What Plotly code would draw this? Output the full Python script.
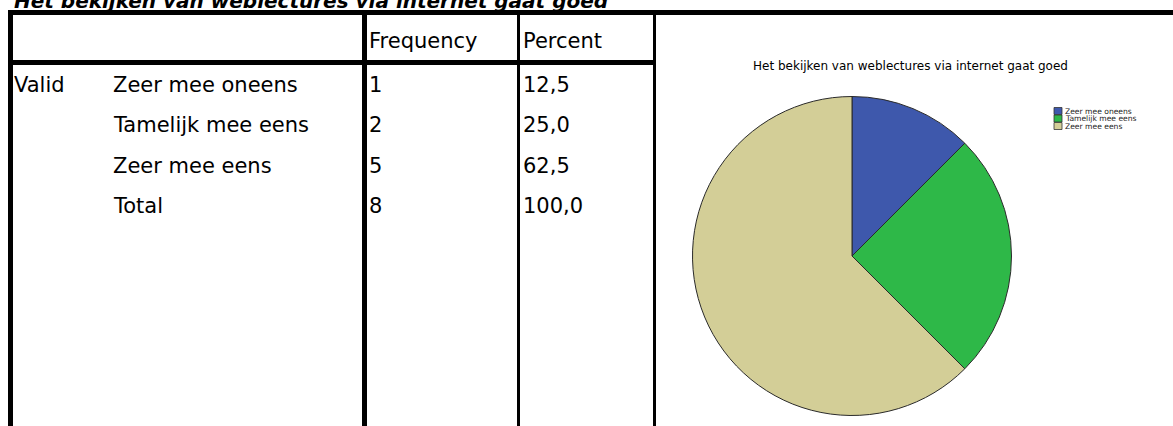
import plotly.graph_objects as go

# ---------------- data ----------------
table_title = "Het bekijken van weblectures via internet gaat goed"
chart_title = "Het bekijken van weblectures via internet gaat goed"
valid_label = "Valid"
col_headers = ["Frequency", "Percent"]
categories = ["Zeer mee oneens", "Tamelijk mee eens", "Zeer mee eens"]
frequencies = [1, 2, 5]
percents = [12.5, 25.0, 62.5]
total_label = "Total"
colors = ["#3E58AC", "#2EB848", "#D3CE97"]

# ---------------- helpers ----------------
W, H = 1173, 426


def X(px):
    return px / W


def Y(py):
    return 1 - py / H


def fmt(p):
    return f"{p:.1f}".replace(".", ",")


TFONT = "DejaVu Sans"
AFONT = "DejaVu Sans"

annotations = []


def text(t, x, baseline, size, family=TFONT, color="black", anchor="left", bold=False, italic=False):
    if bold:
        t = f"<b>{t}</b>"
    if italic:
        t = f"<i>{t}</i>"
    annotations.append(dict(
        text=t, x=X(x), y=Y(baseline - 0.346 * size), xref="paper", yref="paper",
        xanchor=anchor, yanchor="middle", showarrow=False, borderpad=0,
        font=dict(family=family, size=size, color=color),
    ))


shapes = []


def rect(x0, y0, x1, y1, color="black"):
    shapes.append(dict(type="rect", xref="paper", yref="paper",
                       x0=X(x0), x1=X(x1), y0=Y(y1), y1=Y(y0),
                       fillcolor=color, line=dict(width=0), layer="above"))


# ---------------- table ----------------
FS = 21
text(table_title, 13, 8, 20, bold=True, italic=True)

# grid lines
rect(8, 10, W, 15)          # top rule
rect(8, 10, 13, H)          # left rule
rect(8, 60, 656, 65)        # header bottom
rect(362, 10, 367, H)       # frequency column
rect(517, 10, 520, H)       # percent column
rect(653, 10, 656, H)       # chart column

COL_X = [13, 112, 368, 522]
text(col_headers[0], COL_X[2], 48, FS)
text(col_headers[1], COL_X[3], 48, FS)

row0, step = 92, 40.5
text(valid_label, COL_X[0], row0, FS)
for i, (c, f, p) in enumerate(zip(categories, frequencies, percents)):
    b = row0 + i * step
    text(c, COL_X[1], b, FS)
    text(str(f), COL_X[2], b, FS)
    text(fmt(p), COL_X[3], b, FS)
b = row0 + len(categories) * step
text(total_label, COL_X[1], b, FS)
text(str(sum(frequencies)), COL_X[2], b, FS)
text(fmt(sum(percents)), COL_X[3], b, FS)

# ---------------- pie ----------------
cx, cy, r = 852, 256, 159.5
pie = go.Pie(
    labels=categories, values=frequencies, sort=False,
    direction="clockwise", rotation=0,
    marker=dict(colors=colors, line=dict(color="#2a2a2a", width=1)),
    textinfo="none", showlegend=False,
    domain=dict(x=[X(cx - r), X(cx + r)], y=[Y(cy + r), Y(cy - r)]),
)

text(chart_title, 910, 70, 12, family=AFONT, anchor="center")

# legend (drawn manually to match the compact SPSS look)
LX, LY0, LSTEP, LS = 1054, 111, 7.5, 8
for i, (c, col) in enumerate(zip(categories, colors)):
    yc = LY0 + i * LSTEP
    shapes.append(dict(type="rect", xref="paper", yref="paper",
                       x0=X(LX), x1=X(LX + LS), y0=Y(yc + LS / 2 - 0.5), y1=Y(yc - LS / 2 + 0.5),
                       fillcolor=col, line=dict(color="#333333", width=0.8), layer="above"))
    annotations.append(dict(
        text=c, x=X(LX + LS + 2), y=Y(yc), xref="paper", yref="paper",
        xanchor="left", yanchor="middle", showarrow=False, borderpad=0,
        font=dict(family=AFONT, size=7.6, color="#222222"),
    ))

fig = go.Figure(pie)
fig.update_layout(
    width=W, height=H, margin=dict(l=0, r=0, t=0, b=0),
    paper_bgcolor="white", plot_bgcolor="white",
    shapes=shapes, annotations=annotations,
)
fig.write_html(
    "out.html",
    config={"displayModeBar": False},
    post_script="document.body.style.margin='0';document.body.style.padding='0';"
                "document.documentElement.style.overflow='hidden';",
)
